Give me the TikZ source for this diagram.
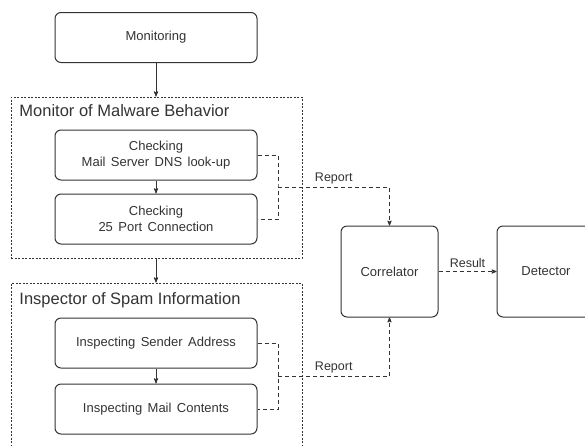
\documentclass[tikz,border=0pt]{standalone}
\usepackage{fontspec}
\setmainfont{Liberation Sans}
\usetikzlibrary{arrows, positioning}

\newcommand{\boxfont}{\fontsize{13}{16}\selectfont}

\begin{document}
\begin{tikzpicture}[
    x=1pt, y=-1pt,
    >=stealth',
    line width=0.9pt,
    color=black!80,
    stepbox/.style={draw, line width=1pt, rounded corners=6pt, minimum width=202pt, minimum height=50pt,
        align=center, font=\boxfont, execute at begin node={\spaceskip=0.42em plus 0.1em\relax}},
    unitbox/.style={draw, line width=1pt, rounded corners=6pt, minimum width=97pt, minimum height=91pt,
        font=\boxfont},
    groupbox/.style={draw, line width=0.8pt, dash pattern=on 2pt off 1.5pt},
    grouptitle/.style={anchor=west, inner sep=0pt, font=\fontsize{16.5}{18}\selectfont},
    report/.style={dash pattern=on 4pt off 3pt, line width=0.8pt},
    tag/.style={font=\fontsize{12.5}{15}\selectfont, inner sep=3pt}
]
    \clip (0,0) rectangle (585,445);

    \node[stepbox] (Monitoring) at (156,37.5) {Monitoring};

    % malware group
    \node[groupbox, minimum width=291pt, minimum height=161pt] (MalwareBox) at (156.5,177.5) {};
    \node[grouptitle] (MalwareTitle) at (19,111) {Monitor of Malware Behavior};
    \node[stepbox] (CheckDNS)  at (156,155) {Checking\\Mail Server DNS look-up};
    \node[stepbox] (CheckPort) [below=13pt of CheckDNS] {Checking\\25 Port Connection};

    % spam group
    \node[groupbox, minimum width=291pt, minimum height=177pt] (SpamBox) at (156.5,371.5) {};
    \node[grouptitle] (SpamTitle) at (19,300) {Inspector of Spam Information};
    \node[stepbox] (CheckSender)   at (156,343) {Inspecting Sender Address};
    \node[stepbox] (CheckContents) [below=15pt of CheckSender] {Inspecting Mail Contents};

    \node[unitbox] (Correlator) at (389.5,271.5) {Correlator};
    \node[unitbox, minimum width=98pt] (Detector) at (546,271.5) {Detector};

    \coordinate (ReportA) at (278,187);
    \coordinate (ReportB) at (278,376);

    \draw[->] (Monitoring) -- (Monitoring |- MalwareBox.north);
    \draw[->] (CheckDNS) -- (CheckPort);
    \draw[->] (MalwareBox.south -| Monitoring) -- (Monitoring |- SpamBox.north);
    \draw[->] (CheckSender) -- (CheckContents);

    \draw[report] (CheckDNS.east) -| (ReportA) |- (CheckPort.east);
    \draw[report, ->] (ReportA) -| node[tag, above, pos=0.25] (ReportTopLabel) {Report} (Correlator.north);
    \draw[report] (CheckSender.east) -| (ReportB) |- (CheckContents.east);
    \draw[report, ->] (ReportB) -| node[tag, above, pos=0.25] (ReportBottomLabel) {Report} (Correlator.south);
    \draw[report, ->] (Correlator) -- node[tag, above] (ResultLabel) {Result} (Detector);
\end{tikzpicture}
\end{document}
